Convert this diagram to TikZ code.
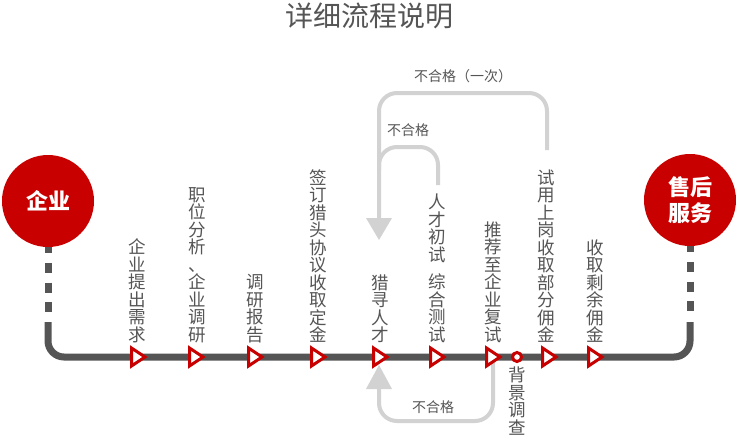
\documentclass[tikz,border=0pt]{standalone}
\usepackage{fontspec}
\newfontfamily\cjk{Noto Sans CJK SC}
\usetikzlibrary{calc}
\definecolor{mainline}{HTML}{555555}
\definecolor{loopgray}{HTML}{D2D2D2}
\definecolor{redc}{HTML}{C80000}
\definecolor{txt}{HTML}{555555}
\begin{document}
\begin{tikzpicture}[x=1pt,y=-1pt,
  mainpath/.style={draw=mainline,line width=7pt,rounded corners=16pt},
  dashseg/.style={draw=mainline,line width=7pt,dash pattern=on 10pt off 9.67pt,dash phase=4pt},
  looppath/.style={draw=loopgray,line width=4pt,rounded corners=18pt},
  tri/.style={draw=redc,fill=white,line width=3pt,line join=miter},
  dotmark/.style={circle,draw=redc,fill=white,line width=3pt,minimum size=9pt,inner sep=0pt},
  bigcircle/.style={circle,fill=redc,minimum size=92pt,inner sep=0pt,text=white,font=\cjk\bfseries\fontsize{22}{26}\selectfont,align=center},
  vlabel/.style={anchor=south,align=center,text=txt,font=\cjk\fontsize{17.5}{17.5}\selectfont,inner sep=0pt},
  looplabel/.style={text=txt,font=\cjk\fontsize{14}{16}\selectfont,inner sep=0pt},
]
\useasboundingbox (0,0) rectangle (736,440);
\fill[white] (0,0) rectangle (736,440);

% title
\node[text=txt,font=\cjk\fontsize{28}{30}\selectfont,inner sep=0pt] (title) at (369,16) {详细流程说明};

% feedback loops
\coordinate (arrA) at (379,240);
\coordinate (arrB) at (379,365);
\draw[looppath] (547,150) -- (547,93) -- (379,93) -- (379,170);
\draw[looppath] (438,185) -- (438,147) -- (379,147) -- (379,220);
\fill[loopgray] (arrA) -- ++(-13,-22) -- ++(26,0) -- cycle;
\draw[looppath] (493,357) -- (493,421) -- (379,421) -- (379,387);
\fill[loopgray] (arrB) -- ++(-13,24) -- ++(26,0) -- cycle;

\node[looplabel] (f1) at (463,76) {不合格（一次）};
\node[looplabel] (f2) at (408,130) {不合格};
\node[looplabel] (f3) at (433,407) {不合格};

% end circles
\node[bigcircle] (c1) at (48,201) {企业};
\node[bigcircle] (c2) at (690,200) {售后\\服务};

% main line
\coordinate (s1) at (48,322);
\coordinate (s2) at (690,322);
\draw[dashseg] (c1.south) -- (48,313);
\draw[dashseg] (c2.south) -- (690,313);
\draw[mainpath] (s1) -- (48,357) -- (690,357) -- (s2);

% step markers
\foreach \L [count=\i] in {130,188,247,310,372,429,485,541,587} {
  \coordinate (m\i) at (\L+8,357);
  \draw[tri] ($(m\i)+(-6.5,-9)$) -- ($(m\i)+(7,0)$) -- ($(m\i)+(-6.5,9)$) -- cycle;
}
\node[dotmark] (bg) at (517,357) {};

% labels
\node[vlabel] (l1) at (137,343) {企\\业\\提\\出\\需\\求};
\node[vlabel] (l2) at (197,343) {职\\位\\分\\析\\、\\企\\业\\调\\研};
\node[vlabel] (l3) at (255,343) {调\\研\\报\\告};
\node[vlabel] (l4) at (318,343) {签\\订\\猎\\头\\协\\议\\收\\取\\定\\金};
\node[vlabel] (l5) at (380,343) {猎\\寻\\人\\才};
\node[vlabel] (l6) at (437,343) {人\\才\\初\\试\\[10pt]综\\合\\测\\试};
\node[vlabel] (l7) at (493,343) {推\\荐\\至\\企\\业\\复\\试};
\node[vlabel] (l8) at (546,343) {试\\用\\上\\岗\\收\\取\\部\\分\\佣\\金};
\node[vlabel] (l9) at (595,343) {收\\取\\剩\\余\\佣\\金};
\node[vlabel,anchor=north] (l10) at (517,367) {背\\景\\调\\查};
\end{tikzpicture}
\end{document}
